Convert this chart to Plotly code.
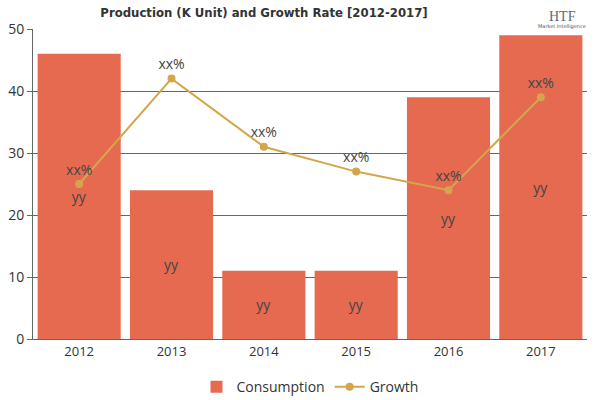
import plotly.graph_objects as go

years = ["2012", "2013", "2014", "2015", "2016", "2017"]
consumption = [46, 24, 11, 11, 39, 49]
growth = [25, 42, 31, 27, 24, 39]
bar_labels = ["yy"] * 6
line_labels = ["xx%"] * 6

fig = go.Figure()
fig.add_trace(go.Bar(
    x=years, y=consumption, name="Consumption",
    marker=dict(color="#E66A50", line=dict(width=0)),
    text=bar_labels, textposition="inside", insidetextanchor="middle",
    textfont=dict(color="#444444", size=14, family="Open Sans"),
))
fig.add_trace(go.Scatter(
    x=years, y=growth, name="Growth", mode="lines+markers+text",
    line=dict(color="#D4A64C", width=2),
    marker=dict(color="#D4A64C", size=8),
    text=line_labels, textposition="top center",
    textfont=dict(color="#444444", size=14, family="Open Sans"),
))

fig.update_layout(
    width=600, height=400,
    margin=dict(l=33, r=13, t=29, b=61, autoexpand=False),
    paper_bgcolor="white", plot_bgcolor="white",
    bargap=0.1,
    title=dict(text="<b>Production (K Unit) and Growth Rate [2012-2017]</b>",
               x=0.44, xanchor="center", y=0.968, yanchor="middle",
               font=dict(family="DejaVu Sans Condensed, DejaVu Sans", size=13, color="#333333")),
    font=dict(family="Open Sans", color="#333333", size=13),
    showlegend=True,
    legend=dict(orientation="h", x=0.5, xanchor="center", yref="container", y=0.032,
                yanchor="middle", font=dict(size=14, color="#333333"), itemwidth=30),
    xaxis=dict(showline=True, linecolor="#666666", linewidth=1, ticks="", automargin=False,
               tickfont=dict(size=13, color="#333333")),
    yaxis=dict(range=[0, 50], dtick=10, showline=True, linecolor="#666666", linewidth=1,
               ticks="outside", ticklen=5, tickcolor="#666666", automargin=False,
               showgrid=True, gridcolor="#666666", gridwidth=1,
               zeroline=False, tickfont=dict(size=14, color="#333333")),
)

fig.add_annotation(x=0.955, y=1.07, xref="paper", yref="paper", xanchor="center",
                   text="HTF", showarrow=False,
                   font=dict(family="Liberation Serif", size=14, color="#5a6a7a"))
fig.add_annotation(x=0.955, y=1.025, xref="paper", yref="paper", xanchor="center",
                   text="Market Intelligence", showarrow=False,
                   font=dict(family="DejaVu Sans", size=5, color="#555555"))

fig.write_html("out.html")
